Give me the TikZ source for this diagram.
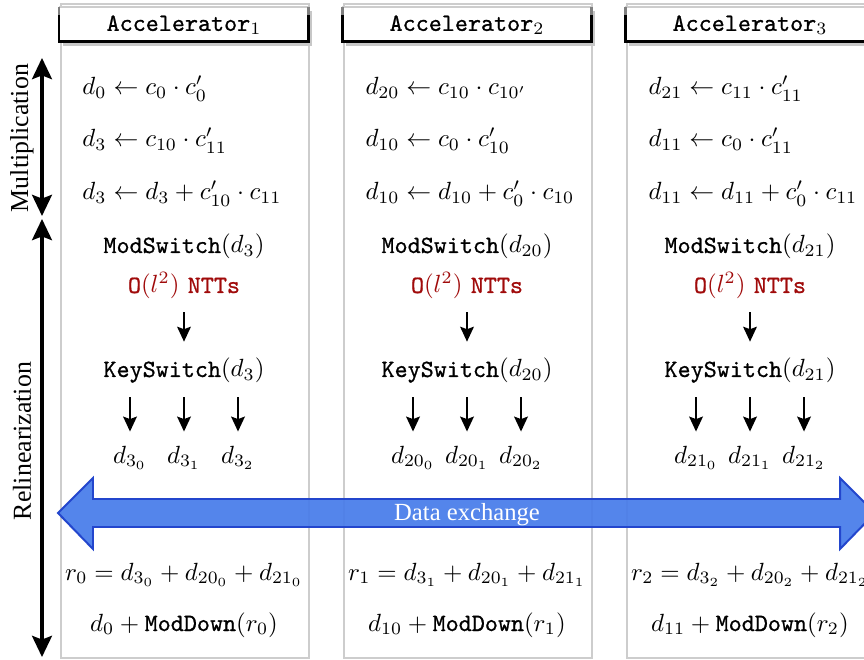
\documentclass[tikz,border=0pt]{standalone}
\usepackage{fontspec}
\setmonofont{lmmono10-regular}[Extension=.otf, FakeBold=0.8]
\usetikzlibrary{arrows.meta}
\newfontfamily\labelfont{Liberation Serif}
\definecolor{nttred}{RGB}{160,10,10}
\definecolor{xblue}{RGB}{72,124,234}
\definecolor{xblueedge}{RGB}{35,70,205}
\definecolor{colgray}{RGB}{205,205,205}
\begin{document}
\begin{tikzpicture}[x=0.402pt,y=-0.402pt,
  colbox/.style={draw=colgray, line width=0.6pt},
  hdrtext/.style={inner sep=0pt, anchor=center},
  mline/.style={inner sep=0pt, anchor=base},
  lline/.style={inner sep=0pt, anchor=base west},
  redtxt/.style={inner sep=0pt, anchor=base, text=nttred},
  bigarrow/.style={line width=1.35pt, {Stealth[length=8.5pt,width=8pt,inset=1.5pt]}-{Stealth[length=8.5pt,width=8pt,inset=1.5pt]}},
  smallarrow/.style={line width=0.8pt, -{Stealth[length=6pt,width=5.5pt,inset=1pt]}},
  sidelabel/.style={rotate=90, inner sep=0pt, font=\labelfont\fontsize{10.4}{12}\selectfont},
]
\useasboundingbox (0,0) rectangle (864,660);
\clip (0,0) rectangle (864,660);
\fill[white] (0,0) rectangle (864,660);

% columns
\foreach \c/\i in {184/1,467/2,750/3}{
  \draw[colbox] (\c-123,4) rectangle (\c+125,658);
  \fill[black!22] (\c-121,11) rectangle (\c+128,46);
  \fill[white] (\c-125,7) rectangle (\c+124,42);
  \draw[colgray, line width=0.5pt] (\c-125,7) -- (\c+124,7);
  \draw[line width=1.2pt] (\c-125,15) -- (\c-125,42) -- (\c+124,42) -- (\c+124,15);
  \draw[black!50, line width=1.2pt] (\c-125,7) -- (\c-125,15) (\c+124,7) -- (\c+124,15);
}

% headers
\node[hdrtext] (h1) at (184,25) {\texttt{Accelerator}$_1$};
\node[hdrtext] (h2) at (467,25) {\texttt{Accelerator}$_2$};
\node[hdrtext] (h3) at (750,25) {\texttt{Accelerator}$_3$};

% column 1
\node[lline] (a1) at (82,95) {$d_0 \leftarrow c_0 \cdot c'_0$};
\node[lline] (b1) at (82,147) {$d_3 \leftarrow c_{10} \cdot c'_{11}$};
\node[lline] (e1) at (82,200) {$d_3 \leftarrow d_3 + c'_{10} \cdot c_{11}$};
\node[mline] (ms1) at (184,253) {\texttt{ModSwitch}$(d_3)$};
\node[redtxt] (ntt1) at (184,293) {\texttt{O}$(l^2)$ \texttt{NTTs}};
\node[mline] (ks1) at (184,377) {\texttt{KeySwitch}$(d_3)$};
\node[mline] (p10) at (130,463) {$d_{3_0}$};
\node[mline] (p11) at (184,463) {$d_{3_1}$};
\node[mline] (p12) at (238,463) {$d_{3_2}$};
\node[mline] (r1) at (184,580) {$r_0 = d_{3_0} + d_{20_0} + d_{21_0}$};
\node[mline] (md1) at (184,631) {$d_0 + \texttt{ModDown}(r_0)$};

% column 2
\node[lline] (a2) at (365,95) {$d_{20} \leftarrow c_{10} \cdot c_{10'}$};
\node[lline] (b2) at (365,147) {$d_{10} \leftarrow c_0 \cdot c'_{10}$};
\node[lline] (e2) at (365,200) {$d_{10} \leftarrow d_{10} + c'_0 \cdot c_{10}$};
\node[mline] (ms2) at (467,253) {\texttt{ModSwitch}$(d_{20})$};
\node[redtxt] (ntt2) at (467,293) {\texttt{O}$(l^2)$ \texttt{NTTs}};
\node[mline] (ks2) at (467,377) {\texttt{KeySwitch}$(d_{20})$};
\node[mline] (p20) at (413,463) {$d_{20_0}$};
\node[mline] (p21) at (467,463) {$d_{20_1}$};
\node[mline] (p22) at (521,463) {$d_{20_2}$};
\node[mline] (r2) at (467,580) {$r_1 = d_{3_1} + d_{20_1} + d_{21_1}$};
\node[mline] (md2) at (467,631) {$d_{10} + \texttt{ModDown}(r_1)$};

% column 3
\node[lline] (a3) at (648,95) {$d_{21} \leftarrow c_{11} \cdot c'_{11}$};
\node[lline] (b3) at (648,147) {$d_{11} \leftarrow c_0 \cdot c'_{11}$};
\node[lline] (e3) at (648,200) {$d_{11} \leftarrow d_{11} + c'_0 \cdot c_{11}$};
\node[mline] (ms3) at (750,253) {\texttt{ModSwitch}$(d_{21})$};
\node[redtxt] (ntt3) at (750,293) {\texttt{O}$(l^2)$ \texttt{NTTs}};
\node[mline] (ks3) at (750,377) {\texttt{KeySwitch}$(d_{21})$};
\node[mline] (p30) at (696,463) {$d_{21_0}$};
\node[mline] (p31) at (750,463) {$d_{21_1}$};
\node[mline] (p32) at (804,463) {$d_{21_2}$};
\node[mline] (r3) at (750,580) {$r_2 = d_{3_2} + d_{20_2} + d_{21_2}$};
\node[mline] (md3) at (750,631) {$d_{11} + \texttt{ModDown}(r_2)$};

% arrows in columns
\foreach \k in {1,2,3}{
  \draw[smallarrow, shorten <=5pt, shorten >=6.5pt] (ntt\k.south) -- (ks\k.north);
  \foreach \j in {0,1,2}{
    \draw[smallarrow, shorten <=5.5pt, shorten >=5.5pt] (ks\k.south -| p\k\j) -- (p\k\j.north);
  }
}

% data exchange arrow
\filldraw[fill=xblue, draw=xblueedge, line width=0.8pt, fill opacity=0.93, line join=miter]
  (58,513) -- (93,478) -- (93,499) -- (840,499) -- (840,478) -- (875,513)
  -- (840,549) -- (840,527) -- (93,527) -- (93,549) -- cycle;
\node[inner sep=0pt, text=white, font=\labelfont\fontsize{9.9}{12}\selectfont] (dx) at (467,515) {Data exchange};

% side arrows
\coordinate (mt) at (42,58);
\coordinate (mb) at (42,216);
\coordinate (rt) at (42,219);
\coordinate (rb) at (42,657);
\draw[bigarrow] (mt) -- (mb);
\draw[bigarrow] (rt) -- (rb);
\node[sidelabel] (mul) at (22,138) {Multiplication};
\node[sidelabel] (rel) at (22,441) {Relinearization};
\end{tikzpicture}
\end{document}
